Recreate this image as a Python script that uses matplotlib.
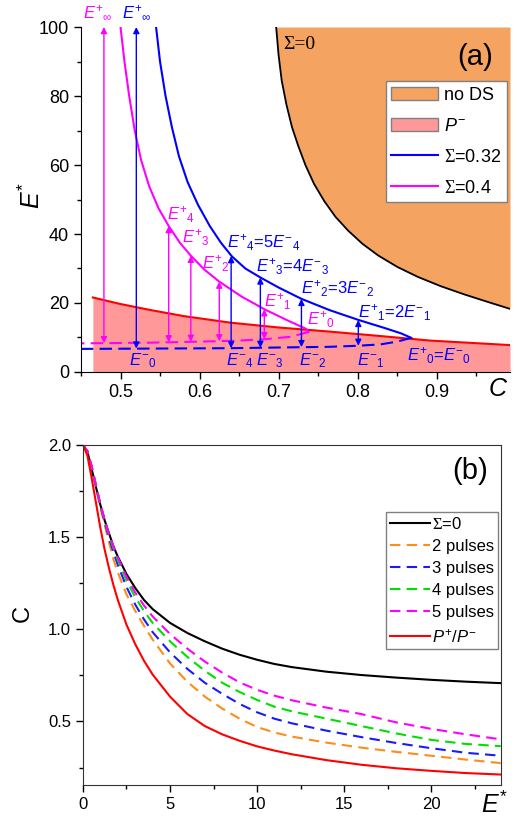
import matplotlib
matplotlib.use('Agg')
import matplotlib.pyplot as plt
from matplotlib.patches import Patch
from matplotlib.lines import Line2D
from matplotlib.ticker import MultipleLocator

plt.rcParams['font.family'] = ['Liberation Sans', 'DejaVu Sans']
plt.rcParams['mathtext.fontset'] = 'custom'
plt.rcParams['mathtext.it'] = 'Liberation Sans:italic'
plt.rcParams['mathtext.rm'] = 'Liberation Sans'
plt.rcParams['mathtext.sf'] = 'Liberation Serif'

# ---- panel (a) data: E* versus C ----
c_sig0 = [0.697, 0.700, 0.704, 0.710, 0.717, 0.725, 0.734, 0.745, 0.758, 0.772, 0.788,
          0.806, 0.826, 0.85, 0.876, 0.905, 0.935, 0.965, 0.993]
e_sig0 = [100, 92, 84.5, 77.5, 71, 65.5, 60, 54.5, 49.5, 45.0, 41.0,
          37.2, 33.8, 30.5, 27.6, 24.9, 22.5, 20.3, 18.3]

c_pminus = [0.465, 0.50, 0.537, 0.58, 0.639, 0.70, 0.765, 0.83, 0.892, 0.993]
e_pminus = [21.6, 19.7, 18.0, 16.2, 14.3, 12.9, 11.7, 10.4, 9.1, 7.8]

c_s032 = [0.545, 0.550, 0.557, 0.565, 0.574, 0.585, 0.598, 0.613, 0.627, 0.641, 0.658,
          0.677, 0.700, 0.729, 0.765, 0.801, 0.835, 0.855, 0.868]
e_s032 = [100, 90, 80, 71, 62.5, 55, 48.5, 42.3, 37.5, 33.5, 30.0,
          27.4, 24.5, 21.2, 17.9, 15.1, 12.7, 11.2, 9.9]
c_s032_low = [0.868, 0.85, 0.829, 0.80, 0.765, 0.70, 0.639, 0.55, 0.45]
e_s032_low = [9.9, 8.8, 8.0, 7.6, 7.3, 7.1, 6.9, 6.8, 6.7]

c_s04 = [0.500, 0.505, 0.511, 0.518, 0.526, 0.536, 0.548, 0.561, 0.575, 0.589, 0.606,
         0.625, 0.653, 0.682, 0.71, 0.735, 0.738]
e_s04 = [100, 90, 80, 70, 61.5, 54, 47.5, 42.3, 37.5, 33.7, 29.7,
         26.2, 21.9, 18.2, 15.1, 12.5, 11.6]
c_s04_low = [0.738, 0.725, 0.715, 0.682, 0.65, 0.60, 0.537, 0.45]
e_s04_low = [11.6, 10.8, 10.2, 9.5, 9.1, 8.8, 8.5, 8.3]

# pulse arrows (C position, lower E, upper E)
arr_c_s04 = [0.479, 0.561, 0.589, 0.625, 0.682]
arr_lo_s04 = [8.35, 8.6, 8.75, 8.9, 9.5]
arr_hi_s04 = [100, 42.3, 33.7, 26.2, 18.2]
arr_c_s032 = [0.520, 0.640, 0.677, 0.729, 0.801]
arr_lo_s032 = [6.8, 6.9, 7.0, 7.2, 7.6]
arr_hi_s032 = [100, 33.6, 27.4, 21.2, 15.1]

# ---- panel (b) data: C versus E* ----
e_b = [0, 0.25, 0.5, 0.75, 1, 1.25, 1.5, 1.75, 2, 2.5, 3, 3.5, 4, 5, 6, 7, 8, 9, 10,
       11, 12, 14, 16, 18, 20, 22, 24]
c_b_sig0 = [2.0, 1.965, 1.87, 1.77, 1.675, 1.59, 1.52, 1.45, 1.395, 1.30, 1.225, 1.16, 1.11,
            1.035, 0.98, 0.935, 0.895, 0.862, 0.835, 0.812, 0.795, 0.77, 0.752, 0.738,
            0.726, 0.716, 0.708]
c_b_2p = [2.0, 1.965, 1.87, 1.765, 1.66, 1.565, 1.47, 1.38, 1.31, 1.19, 1.10, 1.02, 0.945,
          0.815, 0.715, 0.635, 0.57, 0.515, 0.47, 0.44, 0.418, 0.385, 0.358, 0.335,
          0.314, 0.293, 0.274]
c_b_3p = [2.0, 1.968, 1.88, 1.775, 1.672, 1.58, 1.495, 1.42, 1.35, 1.23, 1.135, 1.055, 0.985,
          0.875, 0.785, 0.71, 0.65, 0.595, 0.55, 0.515, 0.49, 0.45, 0.415, 0.383,
          0.355, 0.33, 0.314]
c_b_4p = [2.0, 1.968, 1.885, 1.78, 1.678, 1.59, 1.51, 1.44, 1.375, 1.265, 1.175, 1.10, 1.035,
          0.935, 0.85, 0.775, 0.71, 0.66, 0.617, 0.58, 0.555, 0.515, 0.475, 0.435,
          0.40, 0.378, 0.366]
c_b_5p = [2.0, 1.968, 1.887, 1.783, 1.68, 1.595, 1.515, 1.45, 1.39, 1.285, 1.20, 1.13, 1.07,
          0.975, 0.895, 0.825, 0.765, 0.712, 0.672, 0.64, 0.615, 0.575, 0.54, 0.495,
          0.46, 0.43, 0.403]
c_b_pp = [2.0, 1.945, 1.82, 1.685, 1.55, 1.43, 1.33, 1.24, 1.16, 1.025, 0.92, 0.83, 0.755,
          0.635, 0.54, 0.475, 0.43, 0.395, 0.365, 0.342, 0.322, 0.29, 0.265, 0.246,
          0.232, 0.22, 0.212]

ORANGE = '#F4A460'
PINK = '#FF9999'
BLUE = '#0000FF'
MAG = '#FF00FF'

fig = plt.figure(figsize=(5.17, 8.21), dpi=100)
ax1 = fig.add_axes([0.1567, 0.5469, 0.8298, 0.4202])
ax2 = fig.add_axes([0.1605, 0.0438, 0.808, 0.4141])

# ---------- panel (a) ----------
ax1.fill_between(c_sig0, e_sig0, 100, color=ORANGE, lw=0)
ax1.plot(c_sig0, e_sig0, color='black', lw=1.3)
ax1.fill_between(c_pminus, 0, e_pminus, color=PINK, lw=0)
ax1.plot(c_pminus, e_pminus, color='red', lw=1.5)

ax1.plot(c_s032, e_s032, color=BLUE, lw=1.5)
ax1.plot(c_s032_low, e_s032_low, color=BLUE, lw=1.5, dashes=(6, 3))
ax1.plot(c_s04, e_s04, color=MAG, lw=1.5)
ax1.plot(c_s04_low, e_s04_low, color=MAG, lw=1.5, dashes=(6, 3))

for c, lo, hi in zip(arr_c_s04, arr_lo_s04, arr_hi_s04):
    ax1.annotate('', xy=(c, hi), xytext=(c, lo),
                 arrowprops=dict(arrowstyle='<|-|>', color=MAG, lw=1, mutation_scale=9,
                                 shrinkA=0, shrinkB=0))
for c, lo, hi in zip(arr_c_s032, arr_lo_s032, arr_hi_s032):
    ax1.annotate('', xy=(c, hi), xytext=(c, lo),
                 arrowprops=dict(arrowstyle='<|-|>', color=BLUE, lw=1, mutation_scale=9,
                                 shrinkA=0, shrinkB=0))

fs = 12
ax1.text(0.471, 104, r'$E^{+}{}_{\infty}$', color=MAG, fontsize=fs, ha='center', va='center')
ax1.text(0.520, 104, r'$E^{+}{}_{\infty}$', color=BLUE, fontsize=fs, ha='center', va='center')
ax1.text(0.559, 45.5, r'$E^{+}{}_{4}$', color=MAG, fontsize=fs, ha='left', va='center')
ax1.text(0.578, 38.8, r'$E^{+}{}_{3}$', color=MAG, fontsize=fs, ha='left', va='center')
ax1.text(0.603, 31.5, r'$E^{+}{}_{2}$', color=MAG, fontsize=fs, ha='left', va='center')
ax1.text(0.682, 20.4, r'$E^{+}{}_{1}$', color=MAG, fontsize=fs, ha='left', va='center')
ax1.text(0.736, 15.1, r'$E^{+}{}_{0}$', color=MAG, fontsize=fs, ha='left', va='center')

ax1.text(0.635, 37.6, r'$E^{+}{}_{4}$=5$E^{-}{}_{4}$', color=BLUE, fontsize=fs, ha='left', va='center')
ax1.text(0.672, 30.5, r'$E^{+}{}_{3}$=4$E^{-}{}_{3}$', color=BLUE, fontsize=fs, ha='left', va='center')
ax1.text(0.729, 24.3, r'$E^{+}{}_{2}$=3$E^{-}{}_{2}$', color=BLUE, fontsize=fs, ha='left', va='center')
ax1.text(0.800, 17.2, r'$E^{+}{}_{1}$=2$E^{-}{}_{1}$', color=BLUE, fontsize=fs, ha='left', va='center')
ax1.text(0.862, 4.6, r'$E^{+}{}_{0}$=$E^{-}{}_{0}$', color=BLUE, fontsize=fs, ha='left', va='center')
for c, sub in zip([0.511, 0.634, 0.672, 0.726, 0.799], ['0', '4', '3', '2', '1']):
    ax1.text(c, 3.3, r'$E^{-}{}_{%s}$' % sub, color=BLUE, fontsize=fs, ha='left', va='center')

ax1.text(0.706, 94.8, 'Σ=0', family=['Liberation Serif'], fontsize=14, ha='left', va='center')
ax1.text(0.949, 91.3, '(a)', fontsize=21, ha='center', va='center')

leg1 = ax1.legend(handles=[Patch(facecolor=ORANGE, edgecolor='gray'),
                           Patch(facecolor=PINK, edgecolor='gray'),
                           Line2D([], [], color=BLUE, lw=1.5),
                           Line2D([], [], color=MAG, lw=1.5)],
                  labels=['no DS', r'$P^{-}$', r'$\mathsf{\Sigma}$=0.32', r'$\mathsf{\Sigma}$=0.4'],
                  loc='upper right', bbox_to_anchor=(0.993, 0.843), fontsize=13,
                  handlelength=2.6, handleheight=0.75, handletextpad=0.35,
                  borderpad=0.3, labelspacing=0.78, fancybox=False, framealpha=1,
                  edgecolor='gray', borderaxespad=0)
leg1.get_frame().set_linewidth(1)

ax1.set_xlim(0.45, 0.993)
ax1.set_ylim(0, 100)
ax1.spines['top'].set_visible(False)
ax1.spines['right'].set_visible(False)
ax1.xaxis.set_major_locator(MultipleLocator(0.1))
ax1.xaxis.set_minor_locator(MultipleLocator(0.05))
ax1.yaxis.set_major_locator(MultipleLocator(20))
ax1.yaxis.set_minor_locator(MultipleLocator(10))
ax1.tick_params(which='both', direction='out', labelsize=13, width=1)
ax1.tick_params(which='major', length=5)
ax1.tick_params(which='minor', length=3)
ax1.text(-0.115, 0.51, r'$E^{*}$', transform=ax1.transAxes, rotation=90,
         fontsize=18, ha='center', va='center')
ax1.text(0.972, -0.05, r'$C$', transform=ax1.transAxes, fontsize=18, ha='center', va='center')

# ---------- panel (b) ----------
ax2.plot(e_b, c_b_sig0, color='black', lw=1.5, label=r'$\mathsf{\Sigma}$=0')
ax2.plot(e_b, c_b_2p, color='#FF8C1A', lw=1.5, dashes=(5, 3), label='2 pulses')
ax2.plot(e_b, c_b_3p, color='#1A1AFF', lw=1.5, dashes=(5, 3), label='3 pulses')
ax2.plot(e_b, c_b_4p, color='#00E000', lw=1.5, dashes=(5, 3), label='4 pulses')
ax2.plot(e_b, c_b_5p, color=MAG, lw=1.5, dashes=(5, 3), label='5 pulses')
ax2.plot(e_b, c_b_pp, color='red', lw=1.5, label=r'$P^{+}$/$P^{-}$')

leg2 = ax2.legend(loc='upper right', bbox_to_anchor=(0.9935, 0.803), fontsize=12,
                  handlelength=2.4, handletextpad=0.1, borderpad=0.25, labelspacing=0.42,
                  fancybox=False, framealpha=1, edgecolor='gray', borderaxespad=0)
ax2.text(0.927, 0.924, '(b)', transform=ax2.transAxes, fontsize=21, ha='center', va='center')

ax2.set_xlim(0, 24)
ax2.set_ylim(0.155, 2.0)
ax2.xaxis.set_major_locator(MultipleLocator(5))
ax2.xaxis.set_minor_locator(MultipleLocator(2.5))
ax2.yaxis.set_major_locator(MultipleLocator(0.5))
ax2.yaxis.set_minor_locator(MultipleLocator(0.25))
ax2.tick_params(which='both', direction='out', labelsize=12, width=1)
ax2.tick_params(which='major', length=5)
ax2.tick_params(which='minor', length=3)
for s in ax2.spines.values():
    s.set_color('#333333')
ax2.text(-0.144, 0.506, 'C', transform=ax2.transAxes, rotation=90, fontsize=17,
         ha='center', va='center')
ax2.text(0.985, -0.058, r'$E^{*}$', transform=ax2.transAxes, fontsize=18, ha='center', va='center')

fig.savefig('out.png', dpi=100)
